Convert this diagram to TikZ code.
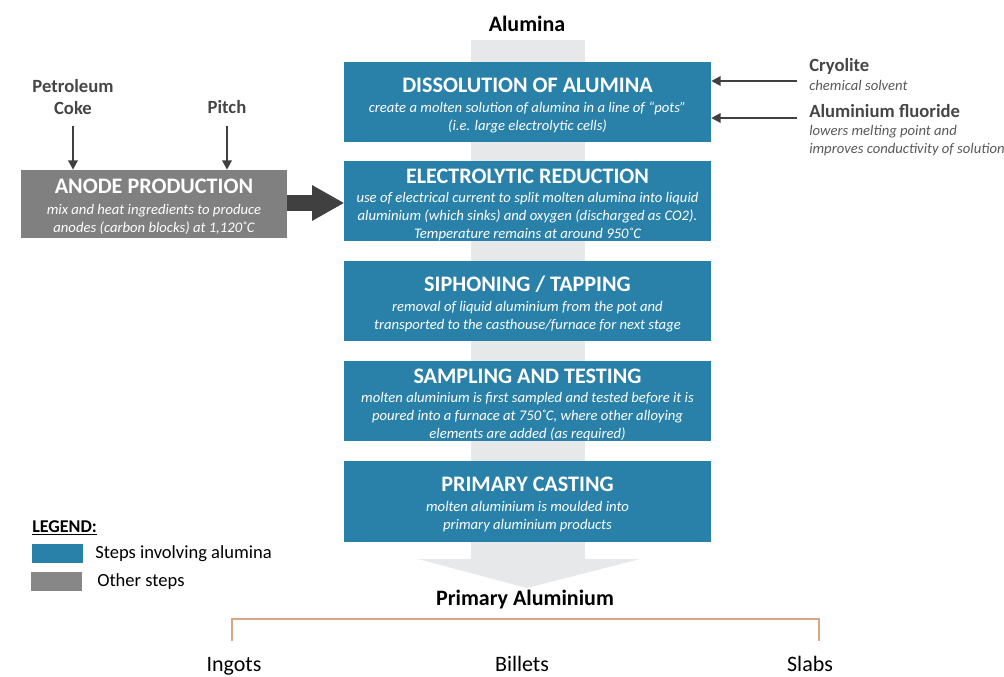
\documentclass[tikz,border=0pt]{standalone}
\usepackage{fontspec}
\setmainfont{Carlito}
\usetikzlibrary{arrows.meta}
\definecolor{stepblue}{RGB}{41,129,169}
\definecolor{stepgrey}{RGB}{128,128,128}
\definecolor{leggrey}{RGB}{135,135,135}
\definecolor{band}{RGB}{231,232,233}
\definecolor{darkarr}{RGB}{64,64,64}
\definecolor{labtxt}{RGB}{70,70,70}
\definecolor{subtxt}{RGB}{89,89,89}
\definecolor{bracket}{RGB}{217,166,134}
\tikzset{
  bluebox/.style={draw=none,fill=stepblue,minimum width=275.25pt,minimum height=60pt,inner sep=0pt},
  greybox/.style={draw=none,fill=stepgrey,minimum width=199.5pt,minimum height=51pt,inner sep=0pt},
  btitle/.style={text=white,font=\fontsize{16.6}{18}\selectfont\bfseries,inner sep=0pt},
  bsub/.style={text=white,font=\fontsize{11}{13.5}\selectfont\itshape,align=center,inner sep=0pt},
  inlab/.style={text=labtxt,font=\fontsize{14}{16.5}\selectfont\bfseries,align=center,inner sep=0pt},
  sidelab/.style={text=labtxt,font=\fontsize{14}{16}\selectfont\bfseries,anchor=west,inner sep=0pt},
  sidesub/.style={text=subtxt,font=\fontsize{11}{13.5}\selectfont\itshape,anchor=north west,align=left,inner sep=0pt},
  arr/.style={draw=darkarr,line width=2pt,-{Triangle[length=7pt,width=7pt]}},
  legbox/.style={minimum width=38.25pt,minimum height=14pt,inner sep=0pt,anchor=north west},
  legtxt/.style={font=\fontsize{13.9}{16}\selectfont,anchor=west,inner sep=0pt,text=black},
  prod/.style={font=\fontsize{16.5}{19}\selectfont,inner sep=0pt,text=black,anchor=base},
  headlab/.style={font=\fontsize{16.5}{19}\selectfont\bfseries,inner sep=0pt,text=black},
}
\begin{document}
\begin{tikzpicture}[x=0.75pt,y=-0.75pt]
\useasboundingbox (0,0) rectangle (1004,677);
\clip (0,0) rectangle (1004,677);
% background flow band with arrowhead
\fill[band] (471,40) rectangle (585,560);
\fill[band] (418,559) -- (640,559) -- (527,588) -- cycle;
\node[headlab] (alumina) at (527,24) {Alumina};

% blue step boxes
\node[bluebox] (b1) at (527.5,102) {};
\node[btitle] (b1t) at (527.5,85) {DISSOLUTION OF ALUMINA};
\node[bsub] (b1s) at (527.5,117) {create a molten solution of alumina in a line of “pots”\\(i.e. large electrolytic cells)};

\node[bluebox] (b2) at (527.5,201.5) {};
\node[btitle] (b2t) at (527.5,176) {ELECTROLYTIC REDUCTION};
\node[bsub] (b2s) at (527.5,217) {use of electrical current to split molten alumina into liquid\\aluminium (which sinks) and oxygen (discharged as CO2).\\Temperature remains at around 950˚C};

\node[bluebox] (b3) at (527.5,301.5) {};
\node[btitle] (b3t) at (527.5,284) {SIPHONING / TAPPING};
\node[bsub] (b3s) at (527.5,317) {removal of liquid aluminium from the pot and\\transported to the casthouse/furnace for next stage};

\node[bluebox] (b4) at (527.5,401.5) {};
\node[btitle] (b4t) at (527.5,376) {SAMPLING AND TESTING};
\node[bsub] (b4s) at (527.5,417) {molten aluminium is first sampled and tested before it is\\poured into a furnace at 750˚C, where other alloying\\elements are added (as required)};

\node[bluebox] (b5) at (527.5,501.5) {};
\node[btitle] (b5t) at (527.5,484) {PRIMARY CASTING};
\node[bsub] (b5s) at (527.5,517) {molten aluminium is moulded into\\primary aluminium products};

% anode production
\node[greybox] (anode) at (154,204) {};
\node[btitle] (anodet) at (154,186) {ANODE PRODUCTION};
\node[bsub] (anodes) at (154,219) {mix and heat ingredients to produce\\anodes (carbon blocks) at 1,120˚C};

\node[inlab] (coke) at (73,97) {Petroleum\\Coke};
\node[inlab] (pitch) at (227,107) {Pitch};
\coordinate (cokeS) at (73,126);
\coordinate (pitchS) at (227,126);
\draw[arr] (cokeS) -- (anode.north -| cokeS);
\draw[arr] (pitchS) -- (anode.north -| pitchS);

% thick arrow anode -> electrolytic reduction
\fill[darkarr] (anode.east |- 0,195) rectangle (312,211);
\fill[darkarr] (312,185) -- (b2.west |- 0,203) -- (312,221) -- cycle;

% side inputs
\coordinate (cryS) at (797,81);
\coordinate (afS) at (797,118);
\draw[arr] (cryS) -- (b1.east |- cryS);
\draw[arr] (afS) -- (b1.east |- afS);
\node[sidelab] (cry) at (809,66) {Cryolite};
\node[sidesub] (crys) at (809,80) {chemical solvent};
\node[sidelab] (af) at (809,111) {Aluminium fluoride};
\node[sidesub] (afs) at (809,125) {lowers melting point and\\improves conductivity of solution};

% legend
\node[font=\fontsize{13.5}{15}\selectfont\bfseries,anchor=west,inner sep=0pt] (leg) at (32,528) {\underline{LEGEND:}};
\node[legbox,fill=stepblue] (legb) at (32,544) {};
\node[legtxt] (legbt) at (95,554) {Steps involving alumina};
\node[legbox,fill=leggrey] (legg) at (31,572) {};
\node[legtxt] (leggt) at (97,582) {Other steps};

% output
\node[headlab] (prim) at (525,600) {Primary Aluminium};
\coordinate (brL) at (232,641);
\coordinate (brR) at (819,641);
\draw[bracket,line width=1.6pt] (brL) -- (232,619) -- (819,619) -- (brR);
\node[prod] (ingots) at (234,671) {Ingots};
\node[prod] (billets) at (522,671) {Billets};
\node[prod] (slabs) at (810,671) {Slabs};
\end{tikzpicture}
\end{document}
